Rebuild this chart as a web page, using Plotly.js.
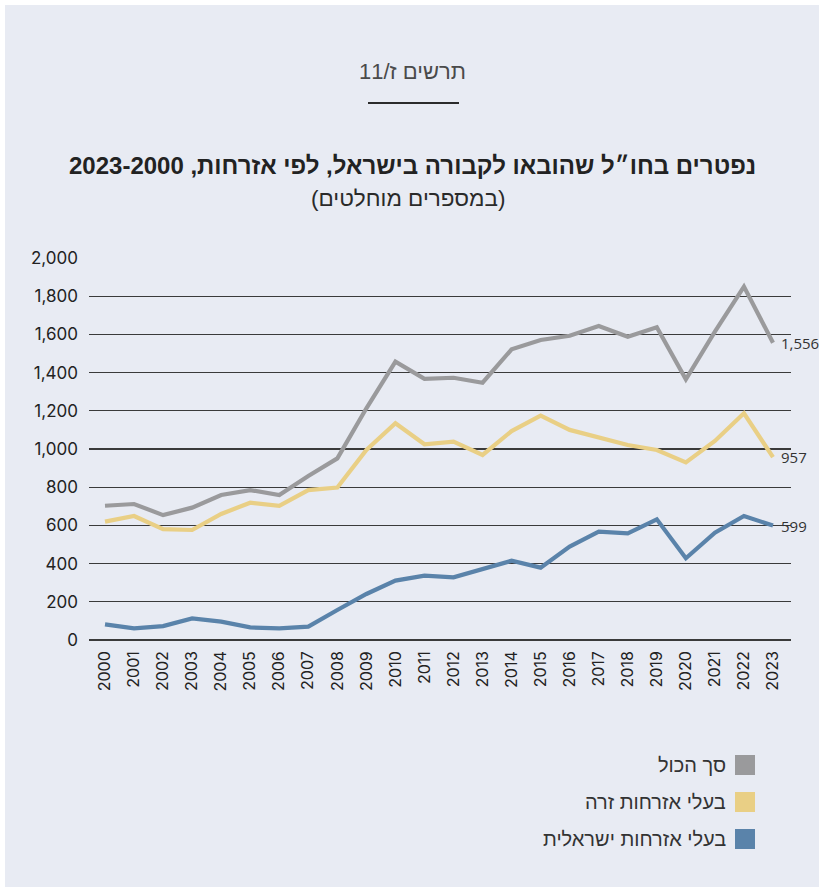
<!DOCTYPE html>
<html>
<head>
<meta charset="utf-8">
<script src="https://cdn.plot.ly/plotly-3.0.1.min.js"></script>
<style>
  html, body { margin: 0; padding: 0; background: #ffffff; }
  #panel { position: absolute; left: 5px; top: 5px; width: 814px; height: 882px; background: #e8ebf3; }
  #chart { position: absolute; left: 0; top: 0; width: 819px; height: 890px; }
</style>
</head>
<body>
<div id="panel"></div>
<div id="chart"></div>
<script>
// ---- data ----
const years = [2000,2001,2002,2003,2004,2005,2006,2007,2008,2009,2010,2011,2012,2013,2014,2015,2016,2017,2018,2019,2020,2021,2022,2023];
const totalAll = [703,712,654,693,759,785,759,859,951,1213,1457,1367,1373,1347,1522,1571,1593,1644,1588,1637,1365,1614,1850,1556];
const foreignCitizens = [620,649,580,576,660,719,702,785,798,995,1135,1025,1039,969,1094,1175,1100,1061,1021,995,930,1042,1187,957];
const israeliCitizens = [82,61,73,113,96,66,61,70,157,241,311,337,328,370,415,379,489,567,558,632,428,562,649,599];

const seriesNames = ['סך הכול', 'בעלי אזרחות זרה', 'בעלי אזרחות ישראלית'];
const seriesColors = ['#9a9a9c', '#e9cf85', '#5a83aa'];
const seriesValues = [totalAll, foreignCitizens, israeliCitizens];

const chartLabel = 'תרשים ז/11';
const titleText = 'נפטרים בחו״ל שהובאו לקבורה בישראל, לפי אזרחות, 2023-2000';
const subtitleText = '(במספרים מוחלטים)';
const yTicks = [0,200,400,600,800,1000,1200,1400,1600,1800,2000];

const RLE = '\u202B', PDF = '\u202C';
const rtl = s => RLE + s + PDF;

// ---- geometry helpers (pixel -> paper) ----
const M = {l: 89, r: 28, t: 257, b: 249};
const W = 819, H = 890;
const pw = W - M.l - M.r, ph = H - M.t - M.b;
const px = X => (X - M.l) / pw;
const py = Y => (H - M.b - Y) / ph;

const hebFont = '"Liberation Sans", Arial, sans-serif';
const numFont = 'Inter, "Open Sans", sans-serif';

const traces = seriesValues.map((vals, i) => ({
  x: years, y: vals, type: 'scatter', mode: 'lines', name: seriesNames[i],
  line: {color: seriesColors[i], width: 4.2}, hoverinfo: 'x+y', showlegend: false
}));
const ordered = [traces[2], traces[1], traces[0]];

const annotations = [
  {text: rtl(chartLabel), xref: 'paper', yref: 'paper', x: px(412), y: py(71), showarrow: false,
   xanchor: 'center', yanchor: 'middle', font: {family: hebFont, size: 22, color: '#4a4a4a'}},
  {text: rtl('<b>' + titleText + '</b>'), xref: 'paper', yref: 'paper', x: px(412), y: py(166), showarrow: false,
   xanchor: 'center', yanchor: 'middle', font: {family: hebFont, size: 24, color: '#222'}},
  {text: rtl(subtitleText), xref: 'paper', yref: 'paper', x: px(408), y: py(198), showarrow: false,
   xanchor: 'center', yanchor: 'middle', font: {family: hebFont, size: 22.5, color: '#2a2a2a'}}
];
// end labels
seriesValues.forEach((vals, i) => {
  const v = vals[vals.length - 1];
  annotations.push({text: v.toLocaleString('en-US'), x: years[years.length - 1], y: v, xref: 'x', yref: 'y',
    showarrow: false, xanchor: 'left', yanchor: 'middle', xshift: 6,
    font: {family: '"Open Sans", sans-serif', size: 15, color: '#333'}});
});

const shapes = [
  {type: 'line', xref: 'paper', yref: 'paper', x0: px(368), x1: px(459), y0: py(103), y1: py(103),
   line: {color: '#2b2b2b', width: 2}}
];
// manual RTL legend
const legendRows = [765, 802, 839];
seriesNames.forEach((name, i) => {
  const Y = legendRows[i];
  shapes.push({type: 'rect', xref: 'paper', yref: 'paper', x0: px(735), x1: px(755), y0: py(Y + 10), y1: py(Y - 10),
    fillcolor: seriesColors[i], line: {width: 0}});
  annotations.push({text: rtl(name), xref: 'paper', yref: 'paper', x: px(728), y: py(Y), showarrow: false,
    xanchor: 'right', yanchor: 'middle', font: {family: hebFont, size: 20, color: '#333'}});
});

const layout = {
  width: W, height: H,
  margin: M,
  paper_bgcolor: 'rgba(0,0,0,0)', plot_bgcolor: 'rgba(0,0,0,0)',
  showlegend: false,
  xaxis: {
    range: [2000 - 16/29.04, 2023 + 18/29.04], tickmode: 'array', tickvals: years, ticktext: years.map(String),
    tickangle: -90, showgrid: false, zeroline: false, showline: false, ticks: '',
    ticklabelstandoff: 6,
    tickfont: {family: numFont, size: 16, color: '#222'}
  },
  yaxis: {
    range: [-5.2, 2005.2], tickmode: 'array', tickvals: yTicks, ticktext: yTicks.map(v => v.toLocaleString('en-US')),
    showgrid: true, gridcolor: '#3a3a3a', gridwidth: 1.2, zeroline: true, zerolinecolor: '#3a3a3a', zerolinewidth: 1.2,
    showline: false, ticks: '', ticklabelstandoff: 10,
    tickfont: {family: numFont, size: 17, color: '#222'}
  },
  annotations: annotations,
  shapes: shapes
};

Plotly.newPlot('chart', ordered, layout, {displayModeBar: false, staticPlot: true});
</script>
</body>
</html>
